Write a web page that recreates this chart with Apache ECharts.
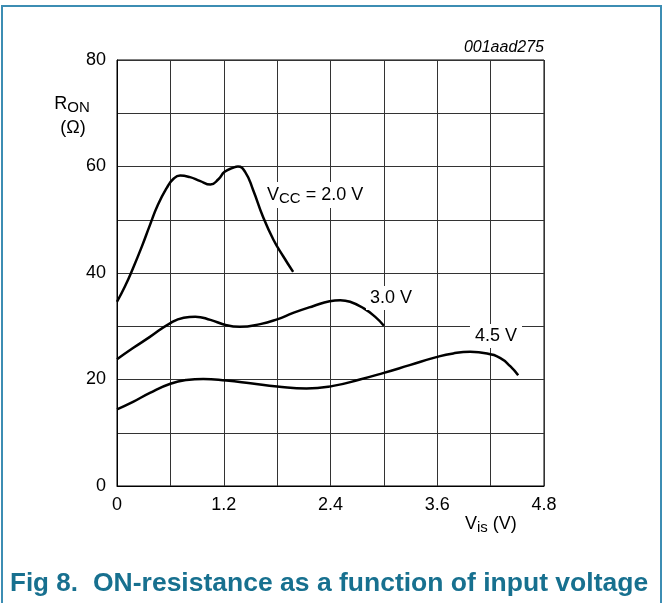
<!DOCTYPE html>
<html>
<head>
<meta charset="utf-8">
<script src="https://cdn.jsdelivr.net/npm/echarts@6/dist/echarts.min.js"></script>
<style>
html,body{margin:0;padding:0;background:#fff;}
#c{width:662px;height:603px;}
</style>
</head>
<body>
<div id="c"></div>
<script>
// Data (Vis in V, RON in ohm)
const vcc20 = [[0,34.6],[0.09,37.5],[0.18,40.9],[0.28,45.0],[0.37,49.0],[0.46,52.8],[0.56,56.0],[0.63,57.6],[0.71,58.3],[0.82,58.0],[0.93,57.3],[1.05,56.6],[1.14,57.6],[1.21,59.0],[1.31,59.8],[1.36,60.0],[1.44,59.0],[1.53,55.6],[1.64,50.6],[1.76,46.2],[1.87,43.1],[1.98,40.2]];
const vcc30 = [[0,23.8],[0.18,25.9],[0.37,28.0],[0.60,30.6],[0.75,31.6],[0.88,31.8],[1.05,31.2],[1.23,30.2],[1.38,29.9],[1.61,30.4],[1.80,31.3],[1.98,32.5],[2.21,33.8],[2.39,34.7],[2.51,34.9],[2.62,34.6],[2.77,33.4],[2.90,31.8],[3.00,30.1]];
const vcc45 = [[0,14.4],[0.18,15.8],[0.37,17.5],[0.60,19.2],[0.78,19.9],[0.97,20.1],[1.23,19.8],[1.50,19.3],[1.80,18.7],[2.13,18.3],[2.43,18.8],[2.73,20.0],[2.99,21.2],[3.29,22.7],[3.59,24.2],[3.78,24.9],[3.97,25.2],[4.16,24.9],[4.31,24.0],[4.42,22.5],[4.51,20.8]];
const xTickLabels = ['0','1.2','2.4','3.6','4.8'];
const yTickLabels = ['0','20','40','60','80'];

const FONT = '"Liberation Sans", Arial, Helvetica, sans-serif';
const chart = echarts.init(document.getElementById('c'), null, {renderer:'canvas'});

function mkSeries(d){
  return {type:'line', data:d, smooth:0.5, symbol:'none',
    lineStyle:{color:'#000', width:2.5}, silent:true, z:3};
}

chart.setOption({
  animation:false,
  backgroundColor:'#fff',
  grid:{left:117, right:118, top:60, bottom:117, show:true, borderColor:'#000', borderWidth:1, backgroundColor:'transparent'},
  xAxis:{type:'value', min:0, max:4.8, interval:0.6,
    axisLine:{show:true, lineStyle:{color:'#000', width:1}},
    axisTick:{show:false},
    splitLine:{show:true, lineStyle:{color:'#333', width:1}},
    axisLabel:{color:'#000', fontFamily:FONT, fontSize:18, margin:10,
      formatter:function(v){const k=Math.round(v/0.6); return k%2===0 ? xTickLabels[k/2] : '';}}
  },
  yAxis:{type:'value', min:0, max:80, interval:10,
    axisLine:{show:true, lineStyle:{color:'#000', width:1}},
    axisTick:{show:false},
    splitLine:{show:true, lineStyle:{color:'#333', width:1}},
    axisLabel:{color:'#000', fontFamily:FONT, fontSize:18, margin:11,
      formatter:function(v){const k=Math.round(v/10); return k%2===0 ? yTickLabels[k/2] : '';}}
  },
  series:[mkSeries(vcc20), mkSeries(vcc30), mkSeries(vcc45)],
  graphic:[
    {type:'rect', shape:{x:2, y:6, width:659, height:700}, style:{fill:'none', stroke:'#3c8db3', lineWidth:2}, z:50},
    {type:'text', x:544, y:48, z:50, style:{text:'001aad275', font:'italic 16px '+FONT, fill:'#000', align:'right', verticalAlign:'middle'}},
    {type:'text', x:72, y:104, z:50, style:{text:'{a|R}{b|ON}', align:'center', verticalAlign:'middle',
      rich:{a:{font:'18px '+FONT, fill:'#000'}, b:{font:'15px '+FONT, fill:'#000', padding:[7,0,0,0]}}}},
    {type:'text', x:73, y:128, z:50, style:{text:'(Ω)', font:'18px '+FONT, fill:'#000', align:'center', verticalAlign:'middle'}},
    {type:'text', x:465, y:524, z:50, style:{text:'{a|V}{b|is}{a| (V)}', align:'left', verticalAlign:'middle',
      rich:{a:{font:'18px '+FONT, fill:'#000'}, b:{font:'15px '+FONT, fill:'#000', padding:[7,0,0,0]}}}},
    {type:'text', x:265, y:195, z:50, style:{text:'{a|V}{b|CC}{a| = 2.0 V}', align:'left', verticalAlign:'middle', backgroundColor:'#fff', padding:[2,2,2,2],
      rich:{a:{font:'18px '+FONT, fill:'#000'}, b:{font:'15px '+FONT, fill:'#000', padding:[7,0,0,0]}}}},
    {type:'text', x:391, y:298, z:50, style:{text:'3.0 V', font:'18px '+FONT, fill:'#000', align:'center', verticalAlign:'middle', backgroundColor:'#fff', padding:[3,4,3,4]}},
    {type:'text', x:496, y:336, z:50, style:{text:'4.5 V', font:'18px '+FONT, fill:'#000', align:'center', verticalAlign:'middle', backgroundColor:'#fff', padding:[3,5,3,5]}},
    {type:'text', x:10, y:584, z:50, style:{text:'Fig 8.', font:'bold 26px '+FONT, fill:'#17708f', align:'left', verticalAlign:'middle'}},
    {type:'text', x:93, y:584, z:50, style:{text:'ON-resistance as a function of input voltage', font:'bold 26.5px '+FONT, fill:'#17708f', align:'left', verticalAlign:'middle'}}
  ]
});
</script>
</body>
</html>
